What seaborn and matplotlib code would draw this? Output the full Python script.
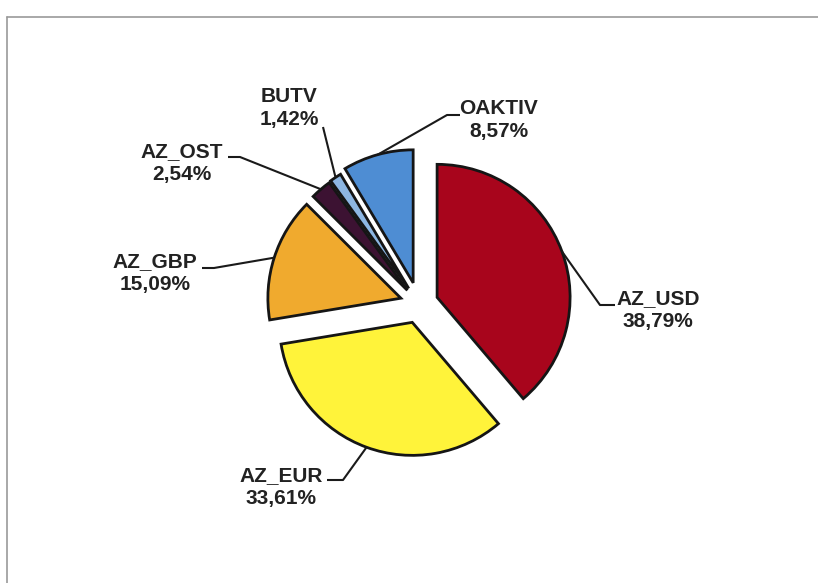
import matplotlib
matplotlib.use('Agg')
import matplotlib.pyplot as plt
import seaborn as sns
import numpy as np

# ---- data ----
categories = ['AZ_USD', 'AZ_EUR', 'AZ_GBP', 'AZ_OST', 'BUTV', 'OAKTIV']
shares = [38.79, 33.61, 15.09, 2.54, 1.42, 8.57]
pct_labels = ['38,79%', '33,61%', '15,09%', '2,54%', '1,42%', '8,57%']

# ---- style ----
colors = ['#A8051C', '#FFF33A', '#F0AA2E', '#3C1232', '#8DB7E3', '#4E8DD3']
explode_frac = [0.145, 0.147, 0.143, 0.135, 0.14, 0.165]

W, H = 818, 583
sns.set_theme(style='white')
plt.rcParams['font.family'] = ['Liberation Sans', 'DejaVu Sans']

fig = plt.figure(figsize=(W / 100, H / 100), dpi=100)
fig.patch.set_facecolor('white')
ax = fig.add_axes([0, 0, 1, 1])

R = 133
center = (419, H - 304)
wedges, _ = ax.pie(shares, colors=colors, explode=[e * R for e in explode_frac],
                   startangle=90, counterclock=False, radius=R, center=center,
                   frame=True,
                   wedgeprops=dict(edgecolor='#151515', linewidth=2.0))
ax.set_xlim(0, W)
ax.set_ylim(0, H)
ax.set_aspect('equal')
ax.axis('off')

# label layout (image pixel coords, y down)
label_pos = [(658, 310), (281.5, 487), (155, 273), (181.5, 163), (289, 108), (499, 120)]
leader_pts = [
    [(615, 305), (600, 305)],
    [(327, 480), (343, 480)],
    [(202, 268), (214, 268)],
    [(228, 157), (240, 157)],
    [(323, 127)],
    [(460, 115), (447, 115)],
]

for w, cat, pct, pos, pts in zip(wedges, categories, pct_labels, label_pos, leader_pts):
    mid = np.deg2rad((w.theta1 + w.theta2) / 2)
    cx, cy = w.center
    ex, ey = cx + w.r * np.cos(mid), cy + w.r * np.sin(mid)
    xs = [p[0] for p in pts] + [ex]
    ys = [H - p[1] for p in pts] + [ey]
    ax.plot(xs, ys, color='#1a1a1a', lw=1.5, solid_capstyle='butt', zorder=3)
    ax.text(pos[0], H - pos[1], f'{cat}\n{pct}', ha='center', va='center',
            multialignment='center', fontsize=15, fontweight='bold',
            color='#222222', linespacing=1.3, zorder=4)

# frame of the scanned chart
ax.plot([7, W], [H - 17, H - 17], color='#9a9a9a', lw=1.2, zorder=1)
ax.plot([7, 7], [H - 17, 0], color='#9a9a9a', lw=1.2, zorder=1)

fig.savefig('out.png', dpi=100)
